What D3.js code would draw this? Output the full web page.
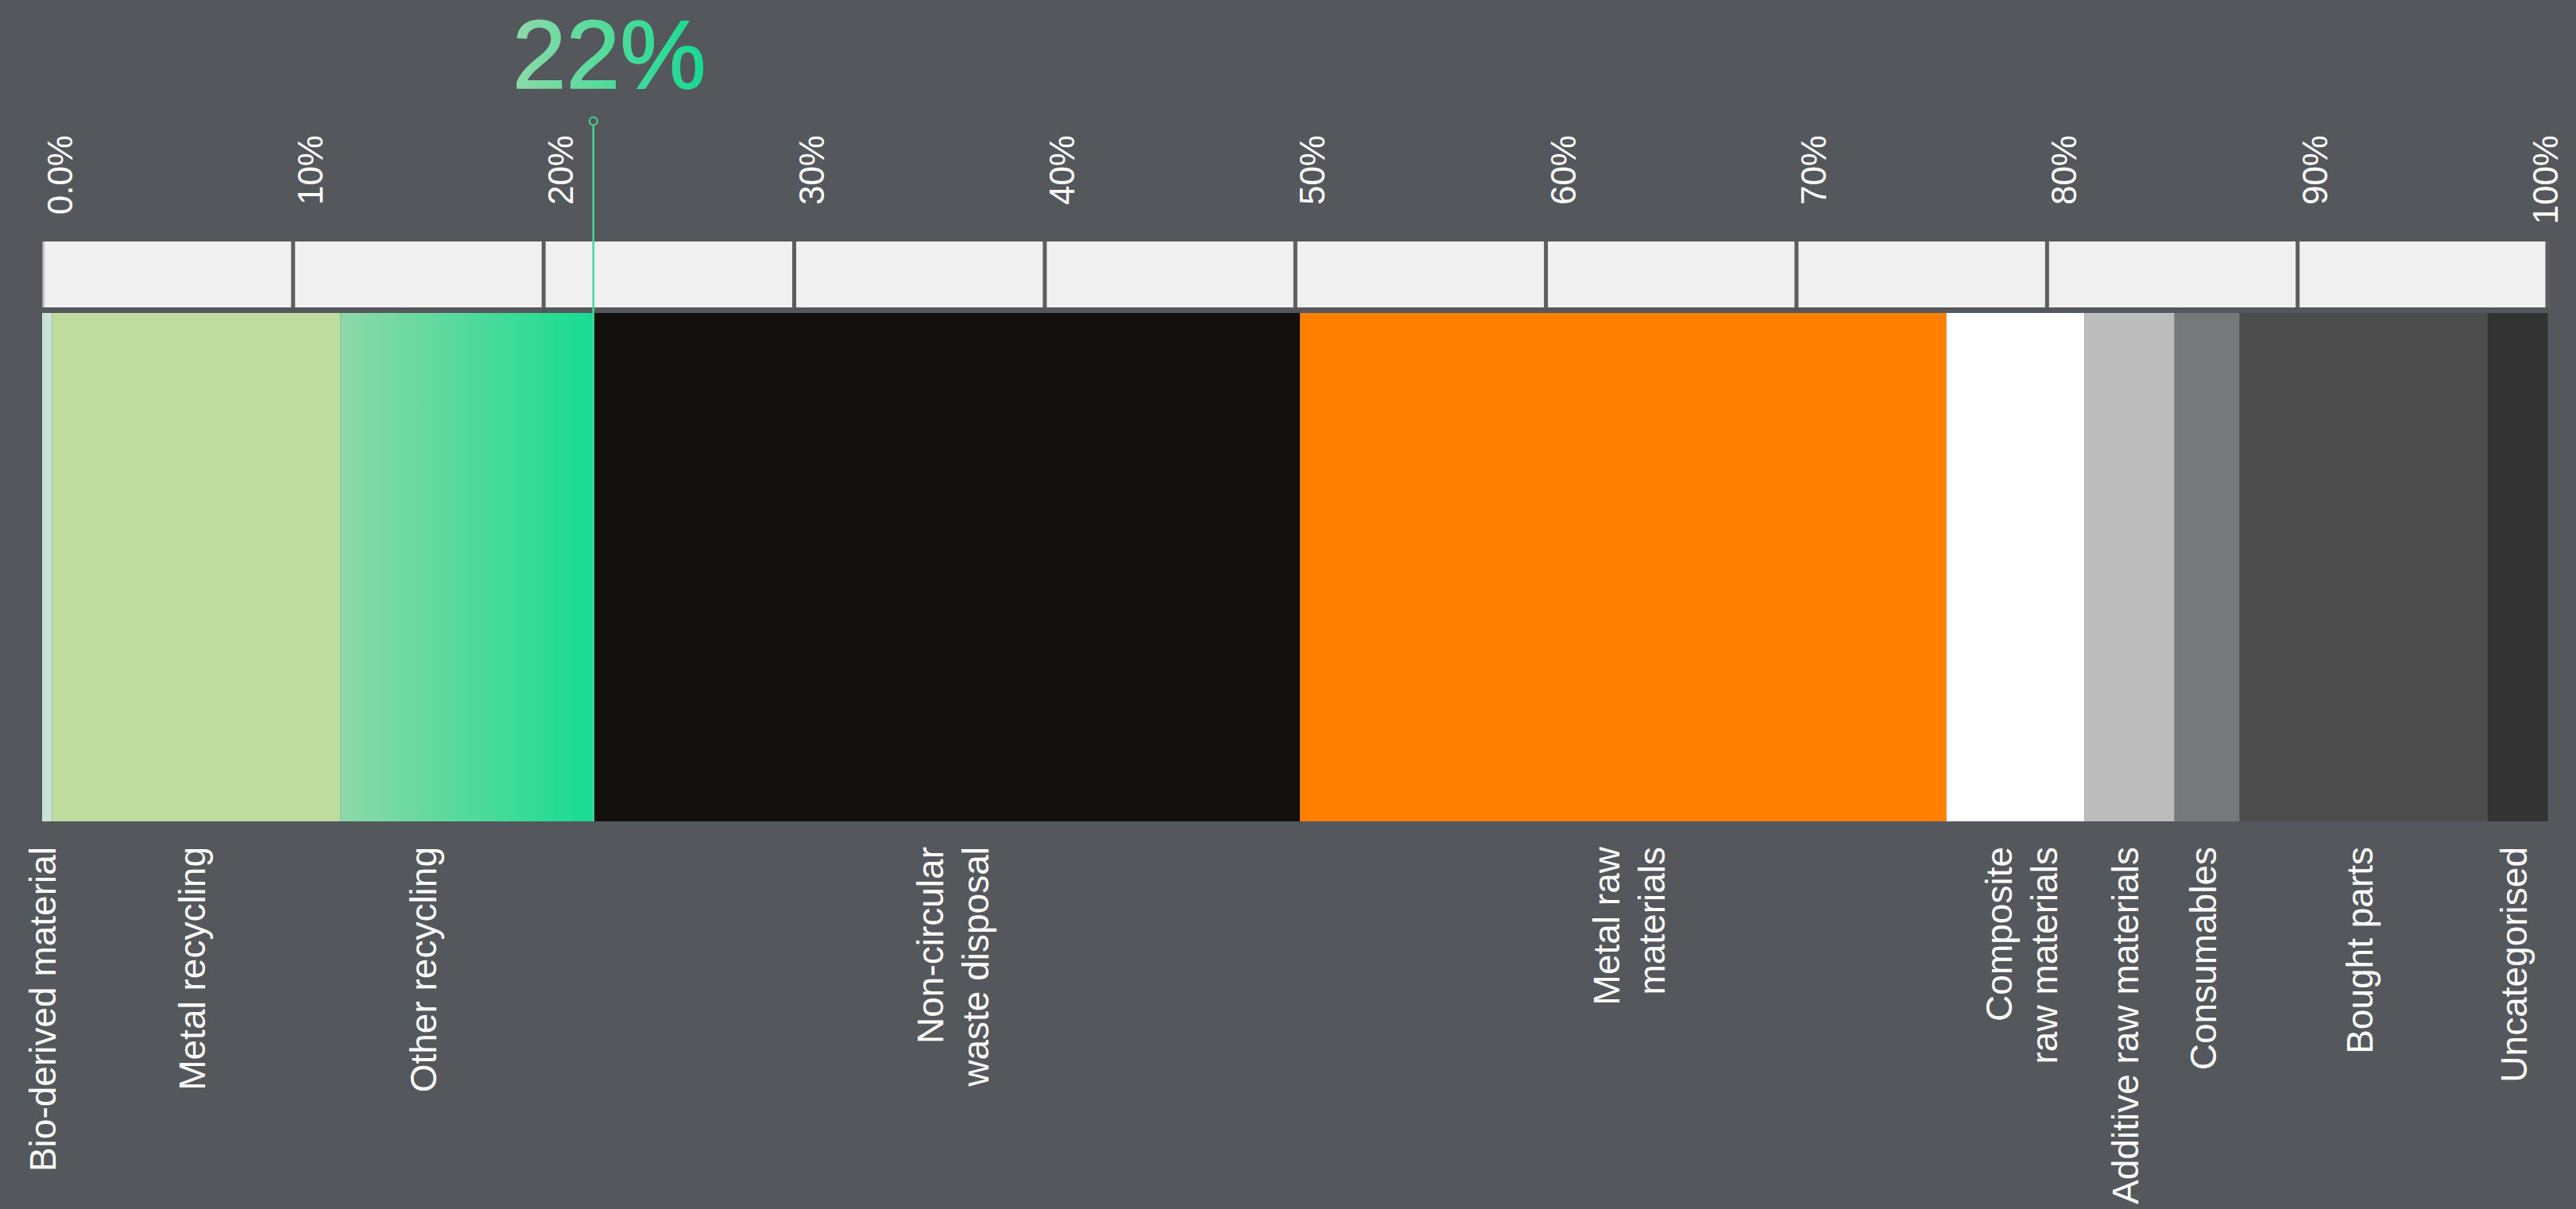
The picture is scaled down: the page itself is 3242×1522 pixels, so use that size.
<!DOCTYPE html>
<html>
<head>
<meta charset="utf-8">
<script src="https://cdn.jsdelivr.net/npm/d3@7"></script>
<style>
  html, body { margin: 0; padding: 0; background: #54575c; }
  svg { display: block; }
</style>
</head>
<body>
<div id="chart"></div>
<script>
// Data
const categories = [
  'Bio-derived material',
  'Metal recycling',
  'Other recycling',
  'Non-circular\nwaste disposal',
  'Metal raw\nmaterials',
  'Composite\nraw materials',
  'Additive raw materials',
  'Consumables',
  'Bought parts',
  'Uncategorised'
]
const shares = [0.4, 11.5, 10.1, 28.2, 25.8, 5.5, 3.6, 2.6, 9.9, 2.4]
const circularCategories = ['Bio-derived material', 'Metal recycling', 'Other recycling']
const tickValues = [0, 10, 20, 30, 40, 50, 60, 70, 80, 90, 100]
const tickLabels = ['0.0%', '10%', '20%', '30%', '40%', '50%', '60%', '70%', '80%', '90%', '100%']

// Styles
const fills = {
  'Bio-derived material': '#c9e4d6',
  'Metal recycling': '#bedba0',
  'Other recycling': 'url(#recyclingGradient)',
  'Non-circular\nwaste disposal': '#12110d',
  'Metal raw\nmaterials': '#ff8000',
  'Composite\nraw materials': '#ffffff',
  'Additive raw materials': '#bcbcbc',
  'Consumables': '#77787a',
  'Bought parts': '#4d4d4d',
  'Uncategorised': '#333333'
}
const labelShift = { 'Other recycling': -50 }

const createStripChart = (wrapperId) => {
  // Const variables
  const width = 3242
  const height = 1522
  const bg = '#54575c'
  const font = '"Liberation Sans", Arial, sans-serif'
  const scaleTop = 304
  const scaleBottom = 387
  const barTop = 394
  const barBottom = 1034
  const labelTop = 1066
  const labelSize = 46
  const lineHeight = 57

  // Compute values
  const ends = d3.cumsum(shares)
  const segments = categories.map((c, i) => ({
    name: c,
    start: ends[i] - shares[i],
    end: ends[i]
  }))
  const circular = d3.sum(segments.filter(s => circularCategories.includes(s.name)), s => s.end - s.start)

  const x = d3.scaleLinear().domain([0, 100]).range([53, 3206.5])

  // Create svg element
  const svg = d3.select(wrapperId)
    .append('svg')
      .attr('width', width)
      .attr('height', height)
      .style('font-family', font)

  svg.append('rect')
    .attr('width', width)
    .attr('height', height)
    .attr('fill', bg)

  // Gradients
  const defs = svg.append('defs')
  const recGrad = defs.append('linearGradient')
    .attr('id', 'recyclingGradient')
    .attr('x1', 0).attr('x2', 1).attr('y1', 0).attr('y2', 0)
  recGrad.append('stop').attr('offset', 0).attr('stop-color', '#8fd8a8')
  recGrad.append('stop').attr('offset', 1).attr('stop-color', '#16dc91')

  const textGrad = defs.append('linearGradient')
    .attr('id', 'headlineGradient')
    .attr('x1', 0).attr('x2', 1).attr('y1', 0).attr('y2', 0)
  textGrad.append('stop').attr('offset', 0).attr('stop-color', '#8ddaa8')
  textGrad.append('stop').attr('offset', 1).attr('stop-color', '#15da90')

  // Scale strip
  svg.append('rect')
    .attr('x', x(0) + 3)
    .attr('y', scaleTop)
    .attr('width', x(100) - x(0) - 6)
    .attr('height', scaleBottom - scaleTop)
    .attr('fill', '#f0f0f0')

  const axis = d3.axisTop(x)
    .tickValues(tickValues)
    .tickFormat((d, i) => tickLabels[i])
    .tickSize(scaleBottom - scaleTop)

  const axisG = svg.append('g')
    .attr('transform', 'translate(0,' + scaleBottom + ')')
    .call(axis)

  axisG.select('.domain').remove()
  axisG.selectAll('.tick line')
    .attr('stroke', d => d === 0 ? '#c8c8c8' : '#5e5e5e')
    .attr('stroke-width', d => d === 0 ? 3 : 5)
    .attr('transform', d => d === 0 ? 'translate(1.5,0)' : null)
  axisG.selectAll('.tick text')
    .attr('transform', 'rotate(-90)')
    .attr('x', scaleBottom - 170)
    .attr('y', d => Math.min(37, width - 24 - x(d)))
    .attr('dy', 0)
    .attr('text-anchor', 'end')
    .attr('fill', '#ffffff')
    .attr('font-size', 44)
    .attr('font-family', font)

  // Segments
  svg.selectAll('.segment')
    .data(segments)
    .enter()
    .append('rect')
      .attr('class', 'segment')
      .attr('x', d => x(d.start))
      .attr('y', barTop)
      .attr('width', d => x(d.end) - x(d.start))
      .attr('height', barBottom - barTop)
      .attr('fill', d => fills[d.name])

  // Category labels
  segments.forEach(s => {
    const lines = s.name.split('\n')
    const cx = (x(s.start) + x(s.end)) / 2 + (labelShift[s.name] || 0)
    const offset = lines.length > 1 ? 24 : 11
    lines.forEach((line, i) => {
      const bx = cx + offset + (i - (lines.length - 1) / 2) * lineHeight
      svg.append('text')
        .attr('transform', 'translate(' + bx + ',' + labelTop + ') rotate(-90)')
        .attr('text-anchor', 'end')
        .attr('font-size', labelSize)
        .attr('fill', '#ffffff')
        .text(line)
    })
  })

  // Circular share marker
  const mx = x(circular)
  svg.append('line')
    .attr('x1', mx).attr('x2', mx)
    .attr('y1', 158).attr('y2', barBottom)
    .attr('stroke', '#45d694')
    .attr('stroke-width', 2.5)
  svg.append('circle')
    .attr('cx', mx)
    .attr('cy', 152.5)
    .attr('r', 5)
    .attr('fill', bg)
    .attr('stroke', '#45d694')
    .attr('stroke-width', 2)

  svg.append('text')
    .attr('x', mx + 20)
    .attr('y', 111)
    .attr('text-anchor', 'middle')
    .attr('font-size', 122)
    .attr('fill', 'url(#headlineGradient)')
    .attr('stroke', 'url(#headlineGradient)')
    .attr('stroke-width', 1.5)
    .text(d3.format('.0f')(circular) + '%')
}

createStripChart('#chart')
</script>
</body>
</html>
